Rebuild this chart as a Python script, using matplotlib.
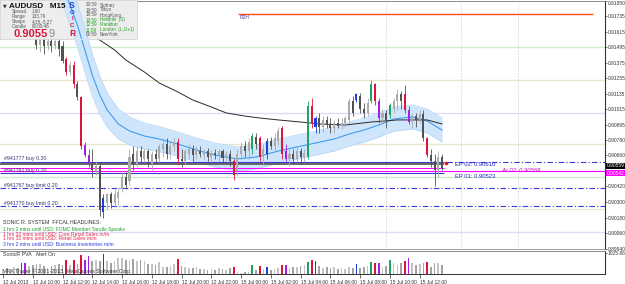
import matplotlib
matplotlib.use("Agg")
import matplotlib.pyplot as plt
import numpy as np
from matplotlib.patches import Rectangle

plt.rcParams["font.family"] = ["Liberation Sans Narrow", "Liberation Sans", "DejaVu Sans"]

W, H = 625, 284

# AUDUSD M15, bar 0 = 12 Jul 2013 08:00
open_ = [
    0.9175, 0.9180, 0.9174, 0.9170, 0.9173, 0.9169, 0.9163, 0.9161, 0.9166, 0.9162,
    0.9151, 0.9156, 0.9150, 0.9154, 0.9150, 0.9154, 0.9150, 0.9140, 0.9130, 0.9136,
    0.9121, 0.9111, 0.9074, 0.9066, 0.9059, 0.9054, 0.9058, 0.9022, 0.9029, 0.9036,
    0.9029, 0.9033, 0.9040, 0.9049, 0.9046, 0.9067, 0.9059, 0.9069, 0.9063, 0.9069,
    0.9059, 0.9067, 0.9063, 0.9071, 0.9075, 0.9067, 0.9073, 0.9076, 0.9063, 0.9062,
    0.9067, 0.9071, 0.9066, 0.9069, 0.9066, 0.9069, 0.9065, 0.9068, 0.9066, 0.9069,
    0.9064, 0.9067, 0.9062, 0.9054, 0.9067, 0.9073, 0.9069, 0.9071, 0.9080, 0.9079,
    0.9065, 0.9067, 0.9077, 0.9073, 0.9077, 0.9087, 0.9069, 0.9063, 0.9067, 0.9063,
    0.9069, 0.9065, 0.9065, 0.9104, 0.9088, 0.9095, 0.9088, 0.9093, 0.9090, 0.9087,
    0.9091, 0.9089, 0.9091, 0.9093, 0.9108, 0.9109, 0.9112, 0.9102, 0.9099, 0.9108,
    0.9121, 0.9108, 0.9095, 0.9099, 0.9097, 0.9102, 0.9108, 0.9113, 0.9113, 0.9101,
    0.9092, 0.9096, 0.9093, 0.9098, 0.9079, 0.9066, 0.9062, 0.9055, 0.9065,
]
high = [
    0.9184, 0.9183, 0.9178, 0.9176, 0.9177, 0.9172, 0.9166, 0.9168, 0.9168, 0.9164,
    0.9159, 0.9158, 0.9157, 0.9157, 0.9157, 0.9157, 0.9154, 0.9142, 0.9139, 0.9139,
    0.9123, 0.9112, 0.9076, 0.9071, 0.9071, 0.9062, 0.9060, 0.9036, 0.9037, 0.9038,
    0.9040, 0.9041, 0.9054, 0.9053, 0.9071, 0.9073, 0.9073, 0.9073, 0.9071, 0.9071,
    0.9069, 0.9071, 0.9075, 0.9079, 0.9079, 0.9076, 0.9079, 0.9079, 0.9071, 0.9071,
    0.9075, 0.9074, 0.9073, 0.9073, 0.9071, 0.9072, 0.9070, 0.9071, 0.9071, 0.9071,
    0.9069, 0.9070, 0.9063, 0.9071, 0.9076, 0.9077, 0.9079, 0.9083, 0.9083, 0.9081,
    0.9075, 0.9079, 0.9080, 0.9083, 0.9088, 0.9089, 0.9075, 0.9071, 0.9071, 0.9073,
    0.9072, 0.9071, 0.9108, 0.9110, 0.9096, 0.9099, 0.9096, 0.9096, 0.9095, 0.9093,
    0.9095, 0.9095, 0.9096, 0.9110, 0.9112, 0.9114, 0.9114, 0.9106, 0.9110, 0.9124,
    0.9122, 0.9110, 0.9102, 0.9101, 0.9106, 0.9110, 0.9117, 0.9116, 0.9120, 0.9104,
    0.9099, 0.9099, 0.9101, 0.9101, 0.9080, 0.9071, 0.9067, 0.9069, 0.9067,
]
low = [
    0.9171, 0.9172, 0.9168, 0.9166, 0.9167, 0.9160, 0.9160, 0.9160, 0.9160, 0.9148,
    0.9146, 0.9144, 0.9147, 0.9146, 0.9148, 0.9143, 0.9137, 0.9128, 0.9128, 0.9118,
    0.9109, 0.9071, 0.9065, 0.9057, 0.9049, 0.9051, 0.9019, 0.9018, 0.9024, 0.9025,
    0.9026, 0.9028, 0.9038, 0.9040, 0.9043, 0.9055, 0.9057, 0.9061, 0.9061, 0.9057,
    0.9055, 0.9059, 0.9061, 0.9065, 0.9063, 0.9063, 0.9069, 0.9059, 0.9057, 0.9059,
    0.9063, 0.9062, 0.9063, 0.9065, 0.9063, 0.9062, 0.9061, 0.9063, 0.9062, 0.9061,
    0.9062, 0.9058, 0.9047, 0.9051, 0.9063, 0.9065, 0.9063, 0.9067, 0.9071, 0.9062,
    0.9059, 0.9063, 0.9071, 0.9069, 0.9074, 0.9063, 0.9062, 0.9058, 0.9059, 0.9061,
    0.9059, 0.9061, 0.9063, 0.9087, 0.9083, 0.9083, 0.9084, 0.9087, 0.9083, 0.9083,
    0.9087, 0.9086, 0.9088, 0.9091, 0.9096, 0.9107, 0.9099, 0.9095, 0.9096, 0.9106,
    0.9105, 0.9091, 0.9091, 0.9087, 0.9095, 0.9099, 0.9101, 0.9102, 0.9099, 0.9090,
    0.9087, 0.9088, 0.9091, 0.9077, 0.9065, 0.9057, 0.9042, 0.9049, 0.9055,
]
close = [
    0.9180, 0.9174, 0.9170, 0.9173, 0.9169, 0.9162, 0.9161, 0.9166, 0.9162, 0.9151,
    0.9156, 0.9150, 0.9154, 0.9150, 0.9154, 0.9148, 0.9139, 0.9130, 0.9136, 0.9121,
    0.9111, 0.9073, 0.9066, 0.9059, 0.9055, 0.9058, 0.9024, 0.9033, 0.9036, 0.9029,
    0.9036, 0.9038, 0.9049, 0.9043, 0.9065, 0.9059, 0.9069, 0.9065, 0.9069, 0.9063,
    0.9067, 0.9063, 0.9073, 0.9075, 0.9067, 0.9073, 0.9076, 0.9063, 0.9062, 0.9069,
    0.9071, 0.9066, 0.9069, 0.9067, 0.9069, 0.9065, 0.9068, 0.9066, 0.9069, 0.9064,
    0.9067, 0.9062, 0.9051, 0.9067, 0.9073, 0.9069, 0.9076, 0.9081, 0.9075, 0.9065,
    0.9071, 0.9077, 0.9073, 0.9079, 0.9085, 0.9067, 0.9063, 0.9067, 0.9063, 0.9069,
    0.9065, 0.9068, 0.9104, 0.9091, 0.9095, 0.9088, 0.9093, 0.9090, 0.9087, 0.9091,
    0.9089, 0.9091, 0.9095, 0.9108, 0.9099, 0.9113, 0.9102, 0.9099, 0.9106, 0.9121,
    0.9108, 0.9095, 0.9099, 0.9093, 0.9105, 0.9108, 0.9113, 0.9108, 0.9101, 0.9092,
    0.9096, 0.9093, 0.9098, 0.9079, 0.9066, 0.9062, 0.9055, 0.9065, 0.90559,
]
# PVA class per bar: r/g climax, b/p rising volume, "." normal
pva = (".....rp..." ".......r.r" ".rpp...b.." ".........." ".......r.."
       ".........." "..r....g.r" ".b...rp..." "..grb....." ".....b...g"
       "rp..g...rp" "....r....")
volume = [
    230, 310, 190, 345, 280, 550, 550, 390, 440, 470,
    500, 390, 280, 390, 440, 470, 420, 660, 450, 660,
    470, 940, 700, 860, 620, 700, 650, 970, 620, 550,
    620, 780, 780, 660, 700, 750, 620, 700, 620, 480,
    485, 440, 595, 360, 330, 390, 485, 750, 390, 330,
    280, 280, 360, 235, 235, 200, 235, 200, 280, 235,
    200, 280, 330, 80, 50, 110, 80, 440, 200, 390,
    235, 330, 200, 235, 280, 440, 455, 280, 360, 360,
    390, 440, 595, 705, 640, 390, 280, 330, 280, 330,
    235, 280, 235, 360, 280, 485, 280, 330, 390, 595,
    550, 515, 330, 390, 705, 515, 440, 515, 640, 800,
    515, 440, 485, 515, 595, 360, 515, 550, 440,
]

# slow moving average (black)
ma_idx = [8, 16, 24, 26, 30, 33, 38, 42, 47, 51, 56, 60, 65, 69, 74, 80, 85, 92, 99, 106, 114, 118]
ma_val = [0.91797, 0.91689, 0.91581, 0.91550, 0.91473, 0.91396, 0.91303, 0.91218, 0.91149, 0.91087,
          0.91033, 0.90987, 0.90963, 0.90948, 0.90933, 0.90917, 0.90902, 0.90894, 0.90917, 0.90933,
          0.90933, 0.90902]

# blue envelope band
band_idx = [16, 18, 20, 22, 24, 26, 28, 31, 34, 38, 42, 47, 52, 57, 63, 68, 74, 79, 84, 89,
            93, 97, 101, 105, 110, 114, 118]
band_mid = [0.91975, 0.91820, 0.91666, 0.91473, 0.91280, 0.91126, 0.91010, 0.90902, 0.90848, 0.90809,
            0.90786, 0.90747, 0.90701, 0.90662, 0.90632, 0.90647, 0.90693, 0.90724, 0.90755, 0.90786,
            0.90824, 0.90855, 0.90894, 0.90940, 0.90956, 0.90925, 0.90855]
band_half = [0.00139, 0.00154, 0.00170, 0.00170, 0.00162, 0.00147, 0.00131, 0.00116, 0.00108, 0.00100,
             0.00097, 0.00093, 0.00093, 0.00093, 0.00093, 0.00093, 0.00093, 0.00093, 0.00093, 0.00093,
             0.00093, 0.00093, 0.00093, 0.00093, 0.00093, 0.00093, 0.00093]

price_ticks = [0.91850, 0.91735, 0.91615, 0.91495, 0.91375, 0.91255, 0.91135, 0.91015, 0.90895,
               0.90780, 0.90660, 0.90420, 0.90300, 0.90180, 0.90060, 0.89940]
time_idx = [0, 8, 16, 24, 32, 40, 48, 56, 64, 72, 80, 88, 96, 104, 112]
time_labels = ["12 Jul 2013", "12 Jul 10:00", "12 Jul 12:00", "12 Jul 14:00", "12 Jul 16:00",
               "12 Jul 18:00", "12 Jul 20:00", "12 Jul 22:00", "15 Jul 00:00", "15 Jul 02:00",
               "15 Jul 04:00", "15 Jul 06:00", "15 Jul 08:00", "15 Jul 10:00", "15 Jul 12:00"]

# horizontal levels
light_levels = [0.91496, 0.91241, 0.90987, 0.90747, 0.90493, 0.90246, 0.90068]
light_colors = ["#cdeecd", "#ece6d0", "#dcdcf6", "#ece6d0", "#cdeecd", "#ece6d0", "#dcdcf6"]
r2h_price, r2h_from, r2h_to = 0.91751, 63.2, 158.6
order_labels = ["#941777 buy 0.20", "#941761 buy 0.20", "#941767 buy limit 0.20", "#941770 buy limit 0.20"]
order_prices = [0.90610, 0.90523, 0.90404, 0.90269]
ep_labels = ["EP 02: 0.90610", "EP 01: 0.90523"]
ep_prices = [0.90610, 0.90523]
avg_label, avg_price = "Av 02: 0.90568", 0.90542
level_line = 0.90595
bid = 0.90559
alert_price = 0.90600
grid_idx = [103, 123, 138.5]
vol_max = 1025.86

headline_title = "SONIC R. SYSTEM  FFCAL HEADLINES:"
headlines = ["1 hrs 2 mins until USD: FOMC Member Tarullo Speaks",
             "1 hrs 32 mins until USD: Core Retail Sales m/m",
             "1 hrs 32 mins until USD: Retail Sales m/m",
             "3 hrs 2 mins until USD: Business Inventories m/m"]
headline_colors = ["#1e9e2a", "#e8264a", "#e8264a", "#2a3fe0"]

session_times = ["20:59", "19:59", "18:59", "13:59", "12:59", "11:59", "06:59"]
session_names = ["Sydney", "Tokyo", "HongKong", "Helsinki  (S)", "Frankfurt", "London  (L,O+1)", "NewYork"]
session_open = [False, False, False, True, True, True, False]
info_labels = ["Spread", "Range", "Swaps", "Candle"]
info_values = ["1.60", "133.79", "4.38,-5.27", "00:00:46"]

PVA = {"r": "#dc143c", "g": "#1fa363", "b": "#1c3fd6", "p": "#a31fe3"}
BULL, BEAR = "#ababab", "#525252"
VOL_UP, VOL_DN = "#c4c4c4", "#a2a2a2"
ORDER_BLUE = "#3a3ad6"
MAGENTA = "#ff00ff"
AXIS_FS = 3.5

n = len(close)
x = np.arange(n)
o, h, l, c = (np.array(v) for v in (open_, high, low, close))

cols, vcols = [], []
for i in range(n):
    if pva[i] != ".":
        cols.append(PVA[pva[i]])
        vcols.append(PVA[pva[i]])
    elif c[i] >= o[i]:
        cols.append(BULL)
        vcols.append(VOL_UP)
    else:
        cols.append(BEAR)
        vcols.append(VOL_DN)


def fxy(px, py):
    return px / W, 1 - py / H


fig = plt.figure(figsize=(W / 100, H / 100), dpi=100)
fig.patch.set_facecolor("white")
ax = fig.add_axes([0, 1 - 249 / H, 605 / W, 248 / H])
axv = fig.add_axes([0, 1 - 274 / H, 605 / W, 23 / H])
tf = fig.transFigure

xmin, xmax = -0.8, 161.8
ax.set_xlim(xmin, xmax)
axv.set_xlim(xmin, xmax)
ax.set_ylim(0.89937, 0.91851)
axv.set_ylim(0, 1120)

# background levels
for lev, col in zip(light_levels, light_colors):
    ax.axhline(lev, color=col, lw=1.0, zorder=1)
for gi in grid_idx:
    ax.axvline(gi, color="#bdbdbd", lw=0.6, ls=(0, (1, 2)), zorder=1)

# info panel box (drawn over the candles; the band shows on top of it)
panel = Rectangle(fxy(0, 39), 137 / W, 39 / H, transform=tf, fc="#ededed", ec="#cfcfcf",
                  lw=0.5, zorder=4, clip_on=False)
ax.add_patch(panel)

# band + moving average
bi = np.array(band_idx)
bm = np.array(band_mid)
bh = np.array(band_half)
for z, clip in ((1.5, None), (4.2, panel)):
    f = ax.fill_between(bi, bm - bh, bm + bh, color="#cfe5fb", lw=0, zorder=z)
    lines = ax.plot(bi, bm - bh, color="#b3d5f6", lw=0.5, zorder=z + 0.1)
    lines += ax.plot(bi, bm + bh, color="#b3d5f6", lw=0.5, zorder=z + 0.1)
    lines += ax.plot(bi, bm, color="#3f9cf0", lw=0.8, zorder=z + 0.2)
    if clip is not None:
        for art in [f] + lines:
            art.set_clip_path(clip)
ax.plot(ma_idx, ma_val, color="#2a2a2a", lw=0.7, zorder=1.8)

# candles
ax.vlines(x, l, h, colors=cols, lw=0.6, zorder=3)
body_lo = np.minimum(o, c)
body_h = np.maximum(np.abs(c - o), 0.00003)
ax.bar(x, body_h, bottom=body_lo, width=0.55, color=cols, lw=0, zorder=3.1)

# trade levels
ax.hlines(r2h_price, r2h_from, r2h_to, color="#ff4a1c", lw=1.0, zorder=2)
ax.text(r2h_from + 0.3, r2h_price - 0.00006, "R2H", fontsize=3.6, color="#4a3fa0",
        va="top", ha="left", zorder=2)
ax.hlines(level_line, xmin, n - 0.6, color="#5e5e50", lw=1.3, zorder=2)
ax.hlines(order_prices[:2], xmin, n - 0.6, color=ORDER_BLUE, lw=0.8, zorder=2.1)
ax.hlines(ep_prices[0], n + 0.3, xmax, color=ORDER_BLUE, lw=0.8, linestyles=[(0, (5, 2, 1, 2))], zorder=2)
for p in order_prices[2:]:
    ax.axhline(p, color=ORDER_BLUE, lw=0.8, ls=(0, (5, 2, 1, 2)), zorder=2)
ax.hlines(bid, xmin, n - 0.6, color=MAGENTA, lw=0.7, zorder=2.1)
ax.axhline(avg_price, color=MAGENTA, lw=0.8, zorder=2.1)
ax.plot([n], [alert_price], "o", color="#e01010", ms=2.6, mec="none", zorder=4)

for lab, p in zip(order_labels, order_prices):
    ax.text(0.2, p + 0.00003, lab, fontsize=3.8, color="#33336e", va="bottom", ha="left", zorder=2.5)
for lab, p in zip(ep_labels, ep_prices):
    ax.text(121.5, p - 0.00004, lab, fontsize=4.2, color="#2222c8", va="top", ha="left", zorder=2.5)
ax.text(134, avg_price, avg_label, fontsize=4.2, color="#c010c0", va="center", ha="left",
        style="italic", zorder=2.5)

# right price scale
ax.yaxis.tick_right()
ax.set_yticks(price_ticks)
ax.set_yticklabels(["%.5f" % p for p in price_ticks])
ax.tick_params(axis="y", length=1.2, width=0.5, pad=0.6, labelsize=AXIS_FS, colors="#333333")
ax.get_yticklabels()[0].set_va("top")
ax.set_xticks([])
yt = ax.get_yaxis_transform()
ax.text(1.003, bid, "%.5f" % bid, transform=yt, fontsize=AXIS_FS, color="white", va="bottom",
        ha="left", clip_on=False, zorder=6,
        bbox=dict(boxstyle="square,pad=0.1", fc="black", ec="none"))
ax.text(1.003, avg_price, "%.5f" % avg_price, transform=yt, fontsize=AXIS_FS, color="white", va="top",
        ha="left", clip_on=False, zorder=6,
        bbox=dict(boxstyle="square,pad=0.1", fc=MAGENTA, ec="none"))

for a in (ax, axv):
    a.set_facecolor("white")
    a.spines["left"].set_visible(False)
    a.spines["right"].set_color("#333333")
    a.spines["right"].set_linewidth(0.8)
    a.spines["top"].set_color("#8a8a8a")
    a.spines["top"].set_linewidth(0.7)
ax.spines["bottom"].set_color("#8a8a8a")
ax.spines["bottom"].set_linewidth(0.6)
axv.spines["bottom"].set_color("#333333")
axv.spines["bottom"].set_linewidth(0.7)

# volume panel
axv.bar(x, volume, width=0.45, color=vcols, lw=0)
axv.yaxis.tick_right()
axv.set_yticks([vol_max])
axv.set_yticklabels(["%.2f" % vol_max])
axv.tick_params(axis="y", length=1.2, width=0.5, pad=0.6, labelsize=AXIS_FS, colors="#333333")
axv.set_xticks(time_idx)
axv.set_xticklabels(time_labels, ha="left")
axv.tick_params(axis="x", length=3, width=0.5, pad=1.0, labelsize=3.5, colors="#333333")
axv.text(0.005, 0.86, "SonicR PVA   Alert On", transform=axv.transAxes, fontsize=3.8,
         color="#333333", va="center", ha="left")
axv.text(0.005, 0.12, "VRX Trader \u00a9 2001-2013, MetaQuotes Software Corp.", transform=axv.transAxes,
         fontsize=3.8, color="#333333", va="center", ha="left")

# headlines block
hx, hy = fxy(3, 223)
ax.text(hx, hy, headline_title, transform=tf, fontsize=3.8, color="#333333", va="center", zorder=5)
for k, (txt, col) in enumerate(zip(headlines, headline_colors)):
    tx, ty = fxy(3, 229 + 5 * k)
    ax.text(tx, ty, txt, transform=tf, fontsize=3.6, color=col, va="center", zorder=5)

# info panel texts
ax.text(*fxy(3, 6), "\u25bc", transform=tf, fontsize=3.5, color="#333333", va="center", zorder=5,
        family="DejaVu Sans")
ax.text(*fxy(9, 6.5), "AUDUSD   M15", transform=tf, fontsize=5.8, fontweight="bold", color="#111111",
        va="center", zorder=5)
soicr = ["S", "O", "I", "C", "R"]
soicr_y = [6, 12.7, 19, 25.5, 33]
soicr_col = ["#1f3fd8", "#1f3fd8", "#dc143c", "#dc143c", "#dc143c"]
soicr_size = [6.2, 4.3, 4.3, 4.3, 6.2]
for s, yy, col, fs in zip(soicr, soicr_y, soicr_col, soicr_size):
    ax.text(*fxy(72, yy), s, transform=tf, fontsize=fs, fontweight="bold", color=col,
            va="center", ha="center", zorder=5)
for k, (lab, val) in enumerate(zip(info_labels, info_values)):
    ax.text(*fxy(12, 11.7 + 5 * k), lab, transform=tf, fontsize=3.3, color="#555555", va="center", zorder=5)
    ax.text(*fxy(32, 11.7 + 5 * k), val, transform=tf, fontsize=3.3, color="#555555", va="center", zorder=5)
big = ax.text(*fxy(14, 34), ("%.5f" % bid)[:-1], transform=tf, fontsize=8, fontweight="bold",
              color="#dc143c", va="center", zorder=5)
rend = fig.canvas.get_renderer()
bb = big.get_window_extent(rend)
ax.text(bb.x1 / fig.bbox.width, 1 - 34 / H, ("%.5f" % bid)[-1], transform=tf, fontsize=8,
        color="#8a8a8a", va="center", zorder=5)
for k, (tm, nm, op) in enumerate(zip(session_times, session_names, session_open)):
    col = "#22a022" if op else "#555555"
    ax.text(*fxy(86, 5 + 5 * k), tm, transform=tf, fontsize=3.3, color=col, va="center", zorder=5)
    ax.text(*fxy(100, 5 + 5 * k), nm, transform=tf, fontsize=3.3, color=col, va="center", zorder=5)

fig.savefig("out.png", dpi=100)
